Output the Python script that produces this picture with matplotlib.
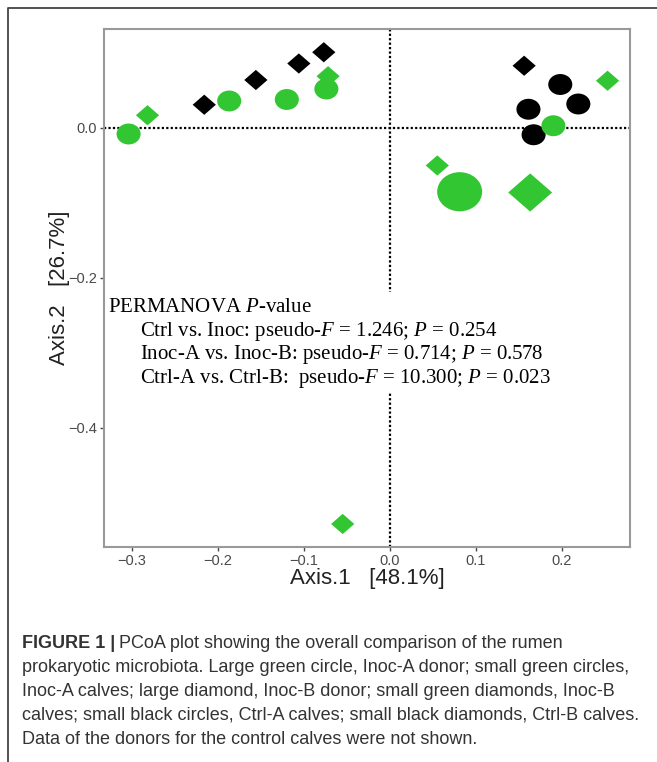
import numpy as np
import matplotlib
matplotlib.use('Agg')
import matplotlib.pyplot as plt
from matplotlib.path import Path
from matplotlib.transforms import Affine2D
from matplotlib.lines import Line2D
from matplotlib.patches import Rectangle

# PCoA coordinates
inoc_a_calves_x = [-0.304, -0.187, -0.120, -0.074, 0.190]
inoc_a_calves_y = [-0.008, 0.036, 0.038, 0.052, 0.003]
inoc_a_donor_x = [0.081]
inoc_a_donor_y = [-0.085]
inoc_b_calves_x = [-0.282, -0.072, 0.253, 0.055, -0.055]
inoc_b_calves_y = [0.017, 0.069, 0.063, -0.050, -0.528]
inoc_b_donor_x = [0.163]
inoc_b_donor_y = [-0.086]
ctrl_a_calves_x = [0.198, 0.161, 0.219, 0.167]
ctrl_a_calves_y = [0.058, 0.025, 0.032, -0.009]
ctrl_b_calves_x = [-0.216, -0.156, -0.106, -0.077, 0.156]
ctrl_b_calves_y = [0.031, 0.064, 0.086, 0.101, 0.083]

x_ticks = [-0.3, -0.2, -0.1, 0.0, 0.1, 0.2]
y_ticks = [-0.4, -0.2, 0.0]

stats_title = 'PERMANOVA $P$-value'
stats_lines = [
    'Ctrl vs. Inoc: pseudo-$F$ = 1.246; $P$ = 0.254',
    'Inoc-A vs. Inoc-B: pseudo-$F$ = 0.714; $P$ = 0.578',
    'Ctrl-A vs. Ctrl-B:  pseudo-$F$ = 10.300; $P$ = 0.023',
]

plt.rcParams['mathtext.fontset'] = 'custom'
plt.rcParams['mathtext.rm'] = 'Liberation Serif'
plt.rcParams['mathtext.it'] = 'Liberation Serif:italic'
plt.rcParams['font.family'] = 'Liberation Sans'

green = '#33c633'
squash = Affine2D().scale(1.0, 0.87)
circle_m = Path.unit_circle().transformed(squash)
diamond_m = Path([(0, 1), (1, 0), (0, -1), (-1, 0), (0, 1)],
                 [Path.MOVETO, Path.LINETO, Path.LINETO, Path.LINETO, Path.CLOSEPOLY]).transformed(squash)

fig = plt.figure(figsize=(6.57, 7.62), dpi=100)
ax = fig.add_axes([104 / 657, 1 - 547 / 762, 526 / 657, 518 / 762])

ax.axhline(0, color='black', lw=1.6, ls=(0, (1, 1)), zorder=1)
ax.axvline(0, color='black', lw=1.6, ls=(0, (1, 1)), zorder=1)

ax.scatter(ctrl_b_calves_x, ctrl_b_calves_y, marker=diamond_m, s=280, c='black', edgecolors='none', zorder=2)
ax.scatter(ctrl_a_calves_x, ctrl_a_calves_y, marker=circle_m, s=300, c='black', edgecolors='none', zorder=2)
ax.scatter(inoc_b_calves_x, inoc_b_calves_y, marker=diamond_m, s=280, c=green, edgecolors='none', zorder=3)
ax.scatter(inoc_a_calves_x, inoc_a_calves_y, marker=circle_m, s=300, c=green, edgecolors='none', zorder=3)
ax.scatter(inoc_a_donor_x, inoc_a_donor_y, marker=circle_m, s=1050, c=green, edgecolors='none', zorder=3)
ax.scatter(inoc_b_donor_x, inoc_b_donor_y, marker=diamond_m, s=1000, c=green, edgecolors='none', zorder=3)

ax.set_xlim(-0.3326, 0.2791)
ax.set_ylim(-0.5587, 0.132)
ax.set_xticks(x_ticks)
ax.set_yticks(y_ticks)
ax.set_xticklabels(['\u2212%.1f' % abs(v) if v < 0 else '%.1f' % v for v in x_ticks])
ax.set_yticklabels(['\u2212%.1f' % abs(v) if v < 0 else '%.1f' % v for v in y_ticks])
ax.tick_params(colors='#4a4a4a', labelsize=10.5, length=3, width=1, pad=2)
for sp in ax.spines.values():
    sp.set_color('#999999')
    sp.set_linewidth(1.5)

ax.set_xlabel('Axis.1   [48.1%]', fontsize=16, color='#222222', labelpad=0)
ax.set_ylabel('Axis.2   [26.7%]', fontsize=16, color='#222222', labelpad=-1)

# PERMANOVA block: white patch hides the dotted line behind the text
ax.add_patch(Rectangle((106 / 657, 1 - 392 / 762), 452 / 657, 100 / 762, transform=fig.transFigure,
                       facecolor='white', edgecolor='none', zorder=1.5))
ax.text(108 / 657, 1 - 307 / 762, stats_title, fontsize=15, family='Liberation Serif', va='center', ha='left',
        transform=fig.transFigure, zorder=2)
for i, line in enumerate(stats_lines):
    ax.text(140 / 657, 1 - (331 + 24 * i) / 762, line, fontsize=15, family='Liberation Serif',
            va='center', ha='left', transform=fig.transFigure, zorder=2)

# caption
cap = ['prokaryotic microbiota. Large green circle, Inoc-A donor; small green circles,',
       'Inoc-A calves; large diamond, Inoc-B donor; small green diamonds, Inoc-B',
       'calves; small black circles, Ctrl-A calves; small black diamonds, Ctrl-B calves.',
       'Data of the donors for the control calves were not shown.']
cap_col = '#333333'
t = fig.text(22 / 657, 1 - 643 / 762, 'FIGURE 1 |', fontsize=13, weight='bold',
             color=cap_col, va='center')
fig.canvas.draw()
bb = t.get_window_extent()
fig.text((bb.x1 + 4) / 657, 1 - 643 / 762, 'PCoA plot showing the overall comparison of the rumen',
         fontsize=13, color=cap_col, va='center')
for i, line in enumerate(cap):
    fig.text(22 / 657, 1 - (667 + 24 * i) / 762, line, fontsize=13,
             color=cap_col, va='center')

# outer frame (left and top edges)
fig.add_artist(Line2D([8 / 657, 8 / 657, 1.0], [0.0, 1 - 8 / 762, 1 - 8 / 762],
                      transform=fig.transFigure, color='#444444', lw=1.3))

fig.savefig('out.png', dpi=100)
